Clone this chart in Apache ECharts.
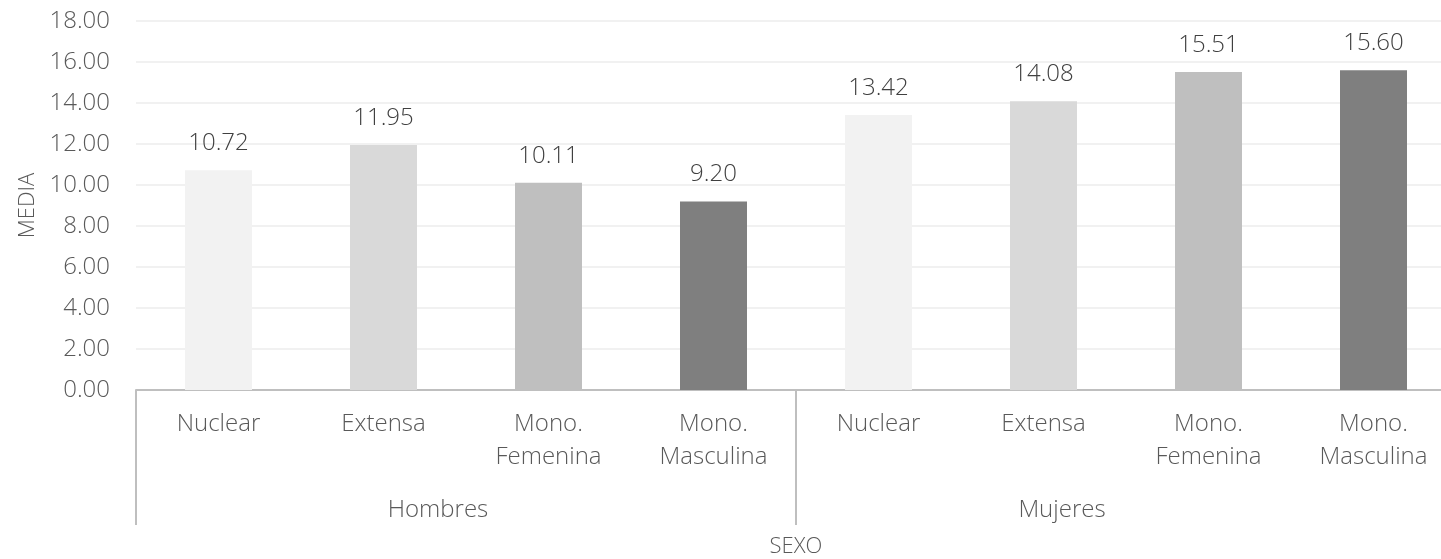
<!DOCTYPE html>
<html>
<head>
<meta charset="utf-8">
<script src="https://cdn.jsdelivr.net/npm/echarts@6/dist/echarts.min.js"></script>
<style>html,body{margin:0;padding:0;background:#fff;overflow:hidden}#c{width:1441px;height:559px}</style>
</head>
<body>
<div id="c"></div>
<script>
var categories = ['Nuclear', 'Extensa', 'Mono.\nFemenina', 'Mono.\nMasculina', 'Nuclear', 'Extensa', 'Mono.\nFemenina', 'Mono.\nMasculina'];
var groups = ['Hombres', 'Mujeres'];
var values = [10.72, 11.95, 10.11, 9.20, 13.42, 14.08, 15.51, 15.60];
var barColors = ['#f2f2f2', '#d9d9d9', '#bfbfbf', '#7f7f7f', '#f2f2f2', '#d9d9d9', '#bfbfbf', '#7f7f7f'];
var yTicks = {min: 0, max: 18, interval: 2};

var FONT = '"Open Sans", sans-serif';
var FW = 300;
var TXT = '#595959';
var chart = echarts.init(document.getElementById('c'), null, {renderer: 'canvas'});
chart.setOption({
  animation: false,
  backgroundColor: '#ffffff',
  grid: {left: 136, width: 1320, top: 21, height: 369, containLabel: false, outerBoundsMode: 'none'},
  xAxis: [{
    type: 'category',
    data: categories,
    axisLine: {show: true, lineStyle: {color: '#bfbfbf', width: 2}},
    axisTick: {show: false},
    axisLabel: {interval: 0, color: TXT, fontFamily: FONT, fontWeight: FW, fontSize: 24, lineHeight: 33, margin: 18}
  }, {
    type: 'category',
    data: groups,
    position: 'bottom',
    axisLine: {show: false},
    axisTick: {show: true, length: 135, lineStyle: {color: '#bfbfbf', width: 2}},
    axisLabel: {
      interval: 0, margin: 105, color: TXT, fontFamily: FONT, fontWeight: FW, fontSize: 24,
      formatter: function (v, i) { return i === 0 ? '{h|' + v + '}' : '{m|' + v + '}'; },
      rich: {
        h: {padding: [0, 56, 0, 0], color: TXT, fontFamily: FONT, fontWeight: FW, fontSize: 24, lineHeight: 30},
        m: {padding: [0, 128, 0, 0], color: TXT, fontFamily: FONT, fontWeight: FW, fontSize: 24, lineHeight: 30}
      }
    },
    name: 'SEXO',
    nameLocation: 'middle',
    nameGap: 146,
    nameTextStyle: {color: TXT, fontFamily: FONT, fontWeight: FW, fontSize: 22}
  }],
  yAxis: {
    type: 'value',
    min: yTicks.min, max: yTicks.max, interval: yTicks.interval,
    axisLine: {show: false},
    axisTick: {show: false},
    splitLine: {lineStyle: {color: '#ececec', width: 1.5}},
    axisLabel: {color: TXT, fontFamily: FONT, fontWeight: FW, fontSize: 24, margin: 26,
      formatter: function (v) { return v.toFixed(2); }},
    name: 'MEDIA',
    nameLocation: 'middle',
    nameGap: 95,
    nameTextStyle: {color: TXT, fontFamily: FONT, fontWeight: FW, fontSize: 22}
  },
  series: [{
    type: 'bar',
    xAxisIndex: 0,
    barWidth: 67,
    data: values.map(function (v, i) { return {value: v, itemStyle: {color: barColors[i]}}; }),
    label: {show: true, position: 'top', distance: 15, color: '#404040', fontFamily: FONT, fontWeight: FW, fontSize: 24,
      formatter: function (p) { return p.value.toFixed(2); }}
  }]
});
</script>
</body>
</html>
